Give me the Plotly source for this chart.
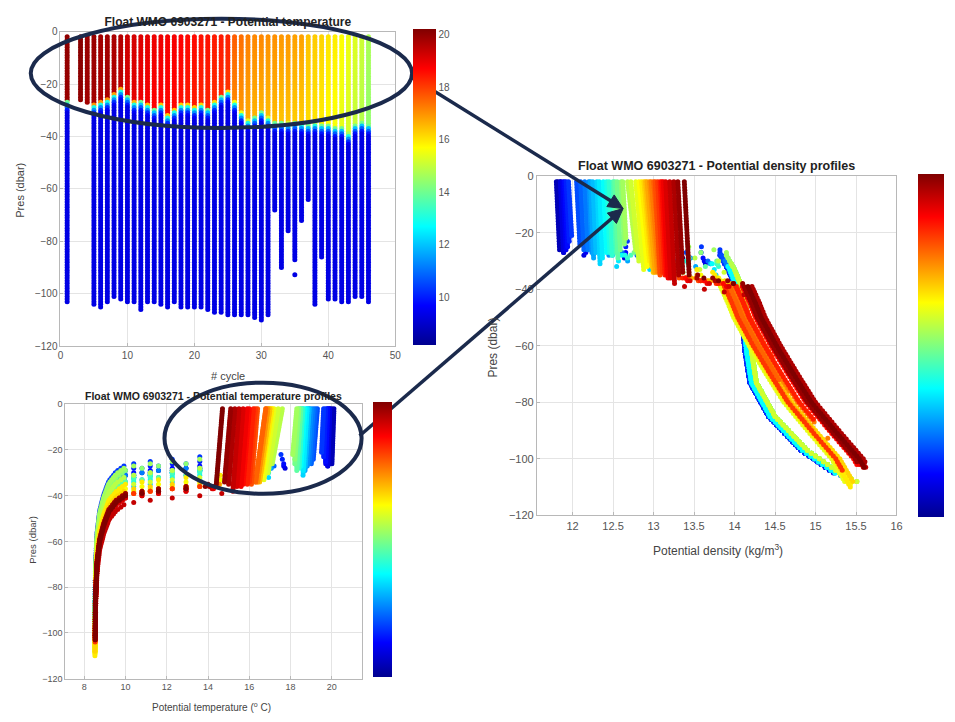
import numpy as np
import plotly.graph_objects as go

# ---------------- data ----------------
cycles = [1] + list(range(3, 47))          # cycle 2 has no profile

# surface temperature and temperature at the base of the mixed layer
surf_temp = [20.0, 20.1, 19.9, 19.9, 19.8, 19.8, 19.7, 19.6,
             19.3, 19.2, 19.1, 19.0, 18.9, 18.9, 18.8, 18.8, 18.7,
             18.6, 18.6, 18.5, 18.5, 18.4, 18.4, 18.3, 17.6, 17.4,
             17.2, 17.1, 17.1, 17.0, 17.0, 16.9, 16.9, 16.8, 16.8, 16.4, 16.3, 16.2,
             16.0, 15.9, 15.7, 15.5, 15.3, 15.1, 14.7]
ml_base_temp = [19.9, 20.0, 19.8, 19.8, 19.7, 19.7, 19.6, 19.5,
                19.1, 19.0, 18.9, 18.8, 18.7, 18.7, 18.6, 18.6, 18.5,
                18.4, 18.4, 18.3, 18.3, 18.2, 18.2, 18.1, 17.1, 16.9,
                16.7, 16.6, 16.6, 16.5, 16.5, 16.4, 16.4, 16.3, 16.3, 16.1, 16.0, 15.9,
                15.7, 15.6, 15.4, 15.2, 15.0, 14.8, 14.4]
# mixed layer depth and deepest sample (dbar, negative down)
mld = [-26, -26.5, -27.5, -27.5, -26.5, -25.5, -23.5, -21.5,
       -24, -26.5, -26, -27.5, -29, -27.5, -31.5, -29.5, -27.5,
       -27.5, -28.5, -27.5, -29, -26.5, -24, -22.5, -26.5, -30.5,
       -33.5, -32, -30, -32.5, -34, -34, -34.5, -34, -34.5, -35, -34.5, -35,
       -35, -36, -36, -38.5, -35, -34, -35]
bottom = [-103.5, -26, -27, -104.5, -105.5, -103, -101.5, -102,
          -103, -103, -106, -103.5, -103.5, -104.5, -105.5, -103.5, -105,
          -105, -105, -105, -106, -107, -107.5, -108, -108, -108.5,
          -108.5, -109, -110, -108.5, -68.5, -90, -76.5, -87, -72.5, -64.5, -104, -86.5,
          -102, -102, -103.5, -103.5, -101.5, -101.5, -103.5]
isolated_cycle = [35]
isolated_pres = [-92.7]

# density in the mixed layer
surf_dens = [11.82, 11.80, 11.85, 11.85, 11.88, 11.90, 11.92, 11.95,
             12.05, 12.10, 12.15, 12.20, 12.22, 12.25, 12.30, 12.33, 12.38,
             12.42, 12.45, 12.50, 12.52, 12.55, 12.60, 12.62, 12.68, 12.72,
             12.78, 12.82, 12.85, 12.88, 12.90, 12.92, 12.95, 12.97, 13.00, 13.02, 13.05, 13.08,
             13.10, 13.12, 13.15, 13.20, 13.25, 13.30, 13.38]
ml_base_dens = [11.86, 11.84, 11.89, 11.89, 11.92, 11.94, 11.96, 11.99,
                12.09, 12.14, 12.19, 12.24, 12.26, 12.29, 12.34, 12.37, 12.42,
                12.46, 12.49, 12.54, 12.56, 12.59, 12.64, 12.66, 12.78, 12.82,
                12.88, 12.92, 12.95, 12.98, 13.00, 13.02, 13.05, 13.07, 13.10, 13.08, 13.11, 13.14,
                13.16, 13.18, 13.21, 13.26, 13.31, 13.36, 13.44]
deep_regime = ["mid"] * 26 + ["late"] * 19
dens_offset = [-0.08] * 8 + [-0.06] * 9 + [0.0] * 9 + \
              [-0.25, -0.20, -0.22, -0.15, -0.12, -0.18, -0.10, -0.08, -0.14, -0.05, -0.20, -0.06] + \
              [0.02, 0.05, 0.08, 0.11, 0.14, 0.04, 0.09]

# thermocline below the mixed layer (depth below MLD -> potential temperature)
thermo_h = [0, 1.5, 3, 5, 8, 12, 18, 25, 35, 50, 80]
thermo_t = [None, 13.6, 11.6, 10.0, 9.55, 9.2, 8.95, 8.75, 8.62, 8.55, 8.52]
# colours seen in the top section plot below the mixed layer
top_h = [0, 1, 2, 3.5, 5]
top_t = [None, 14.0, 12.0, 10.2, 9.3]

# deep density profiles (pressure -> potential density)
mid_p = [-28, -33, -40, -50, -62, -73, -85, -97, -105, -110]
mid_d = [13.9, 14.0, 14.1, 14.17, 14.21, 14.27, 14.5, 14.9, 15.3, 15.65]
late_p = [-34, -38, -45, -50, -60, -70, -80, -90, -100, -105, -110]
late_d = [13.95, 14.06, 14.17, 14.24, 14.43, 14.64, 14.86, 15.15, 15.45, 15.55, 15.65]

top_temp_ticks = [10, 12, 14, 16, 18, 20]
dens_ticks = [12, 12.5, 13, 13.5, 14, 14.5, 15, 15.5, 16]
temp_ticks = [8, 10, 12, 14, 16, 18, 20]
pres_ticks = [-120, -100, -80, -60, -40, -20, 0]

assert all(len(a) == len(cycles) for a in [surf_temp, ml_base_temp, mld, bottom, surf_dens,
                                            ml_base_dens, deep_regime, dens_offset])

# ---------------- build the profile points ----------------
top_x, top_y, top_c = [], [], []
tp_x, tp_y, tp_c = [], [], []
dn_x, dn_y, dn_c = [], [], []
for i, c in enumerate(cycles):
    S, T, M, B = surf_temp[i], ml_base_temp[i], mld[i], bottom[i]
    Ds, Db, off = surf_dens[i], ml_base_dens[i], dens_offset[i]
    tab_p, tab_d = (mid_p, mid_d) if deep_regime[i] == "mid" else (late_p, late_d)
    neg_p = [-v for v in tab_p]
    pres = list(np.arange(-2.0, B - 0.5, -1.0))
    if c in isolated_cycle:
        pres += [isolated_pres[isolated_cycle.index(c)]]
    for p in pres:
        if p >= M:
            f = (p + 2.0) / (M + 2.0) if M != -2 else 0.0
            t = S + (T - S) * f
            tt = t
            d = Ds + (Db - Ds) * f
        else:
            h = M - p
            t = float(np.interp(h, thermo_h, [T] + thermo_t[1:]))
            tt = float(np.interp(h, top_h, [T] + top_t[1:]))
            if h < 4:
                d_end = float(np.interp(-(M - 4), neg_p, tab_d)) + off
                d = Db + (d_end - Db) * h / 4.0
            else:
                d = float(np.interp(-p, neg_p, tab_d)) + off
        top_x.append(c); top_y.append(p); top_c.append(tt)
        tp_x.append(t); tp_y.append(p); tp_c.append(c)
        dn_x.append(d); dn_y.append(p); dn_c.append(c)

# ---------------- figure ----------------
W, H = 955, 722
def px(x): return x / W
def py(y): return 1 - y / H

JET = [[0.0, "rgb(0,0,143)"], [0.125, "rgb(0,0,255)"], [0.375, "rgb(0,255,255)"],
       [0.625, "rgb(255,255,0)"], [0.875, "rgb(255,0,0)"], [1.0, "rgb(128,0,0)"]]
NAVY = "#1b2a4c"
FONT = "Liberation Sans, Arial, sans-serif"

fig = go.Figure()
fig.add_trace(go.Scatter(
    x=top_x, y=top_y, mode="markers", xaxis="x", yaxis="y", hoverinfo="skip",
    marker=dict(size=5, color=top_c, colorscale=JET, cmin=8.16, cmax=20.2, line=dict(width=0),
                colorbar=dict(x=px(414), xanchor="left", xpad=0, y=py(184.5), yanchor="middle",
                              ypad=0, len=321 / H, lenmode="fraction", thickness=23,
                              thicknessmode="pixels", outlinewidth=0, tickvals=top_temp_ticks,
                              ticks="", tickfont=dict(size=10, color="#555", family=FONT)))))
fig.add_trace(go.Scatter(
    x=tp_x, y=tp_y, mode="markers", xaxis="x2", yaxis="y2", hoverinfo="skip",
    marker=dict(size=5, color=tp_c, colorscale=JET, cmin=1, cmax=46, line=dict(width=0),
                colorbar=dict(x=px(374), xanchor="left", xpad=0, y=py(543), yanchor="middle",
                              ypad=0, len=280 / H, lenmode="fraction", thickness=19,
                              thicknessmode="pixels", outlinewidth=0, showticklabels=False,
                              ticks=""))))
fig.add_trace(go.Scatter(
    x=dn_x, y=dn_y, mode="markers", xaxis="x3", yaxis="y3", hoverinfo="skip",
    marker=dict(size=5, color=dn_c, colorscale=JET, cmin=1, cmax=46, line=dict(width=0),
                colorbar=dict(x=px(924), xanchor="left", xpad=0, y=py(345.5), yanchor="middle",
                              ypad=0, len=349 / H, lenmode="fraction", thickness=26,
                              thicknessmode="pixels", outlinewidth=0, showticklabels=False,
                              ticks=""))))

def ax_style(size):
    return dict(showgrid=True, gridcolor="#e4e4e4", gridwidth=1, showline=True,
                linecolor="#b8b8b8", linewidth=1, mirror=True, ticks="inside", ticklen=3,
                tickcolor="#b8b8b8", zeroline=False,
                tickfont=dict(size=size, color="#555", family=FONT))

fig.update_layout(
    width=W, height=H, margin=dict(l=0, r=0, t=0, b=0),
    paper_bgcolor="white", plot_bgcolor="white", showlegend=False,
    title=dict(text="<b>Float WMO 6903271 - Potential temperature</b>", x=px(227), y=py(16),
               xref="paper", yref="paper", xanchor="center", yanchor="middle",
               font=dict(size=12, color="#222", family=FONT)),
    xaxis=dict(domain=[px(58), px(396)], range=[0, 50], tickvals=[0, 10, 20, 30, 40, 50],
               anchor="y", **ax_style(10)),
    yaxis=dict(domain=[py(346), py(26)], range=[-120, 0], tickvals=pres_ticks, anchor="x",
               **ax_style(10)),
    xaxis2=dict(domain=[px(63), px(362)], range=[7.09, 21.44], tickvals=temp_ticks,
                anchor="y2", **ax_style(9)),
    yaxis2=dict(domain=[py(684), py(405)], range=[-120, 0], tickvals=pres_ticks, anchor="x2",
                **ax_style(9)),
    xaxis3=dict(domain=[px(539), px(902)], range=[11.56, 16.0], tickvals=dens_ticks,
                ticktext=[f"{v:g}" for v in dens_ticks], anchor="y3", **ax_style(11)),
    yaxis3=dict(domain=[py(518), py(173)], range=[-120, 0], tickvals=pres_ticks, anchor="x3",
                **ax_style(11)),
)

def txt(x, y, s, size, bold=False, angle=0, color="#444"):
    fig.add_annotation(x=px(x), y=py(y), xref="paper", yref="paper", text=f"<b>{s}</b>" if bold else s,
                       showarrow=False, textangle=angle, xanchor="center", yanchor="middle",
                       font=dict(size=size, color=color, family=FONT))

txt(227, 376, "# cycle", 11)
txt(17, 187, "Pres (dbar)", 11, angle=-90)
txt(212, 397, "Float WMO 6903271 - Potential temperature profiles", 10.5, bold=True, color="#222")
txt(210, 713, "Potential temperature (<sup>o</sup> C)", 10)
txt(30, 543, "Pres (dbar)", 9.5, angle=-90)
txt(720, 163, "Float WMO 6903271 - Potential density profiles", 12.5, bold=True, color="#222")
txt(722, 553, "Potential density (kg/m<sup>3</sup>)", 12)
txt(495, 347, "Pres (dbar)", 12, angle=-90)

# ellipses and arrows of the composite (decoration, in page pixels)
for (x0, y0, x1, y1) in [(28, 13, 413, 124), (163, 383, 362, 496)]:
    fig.add_shape(type="circle", xref="paper", yref="paper", x0=px(x0), x1=px(x1),
                  y0=py(y1), y1=py(y0), line=dict(color=NAVY, width=4), layer="above")
tip = (626, 206)
head_len, head_half = 15, 7
for (tx, ty) in [(412, 72), (360, 437)]:
    dx, dy = tip[0] - tx, tip[1] - ty
    n = (dx * dx + dy * dy) ** 0.5
    ux, uy = dx / n, dy / n
    bx, by = tip[0] - ux * head_len, tip[1] - uy * head_len
    fig.add_shape(type="line", xref="paper", yref="paper", x0=px(tx), y0=py(ty),
                  x1=px(bx + ux * 2), y1=py(by + uy * 2), line=dict(color=NAVY, width=3.5),
                  layer="above")
    pts = [(tip[0], tip[1]), (bx - uy * head_half, by + ux * head_half),
           (bx + uy * head_half, by - ux * head_half)]
    path = "M " + " L ".join(f"{px(a):.5f},{py(b):.5f}" for a, b in pts) + " Z"
    fig.add_shape(type="path", xref="paper", yref="paper", path=path, fillcolor=NAVY,
                  line=dict(color=NAVY, width=1), layer="above")

fig.write_html("out.html")
